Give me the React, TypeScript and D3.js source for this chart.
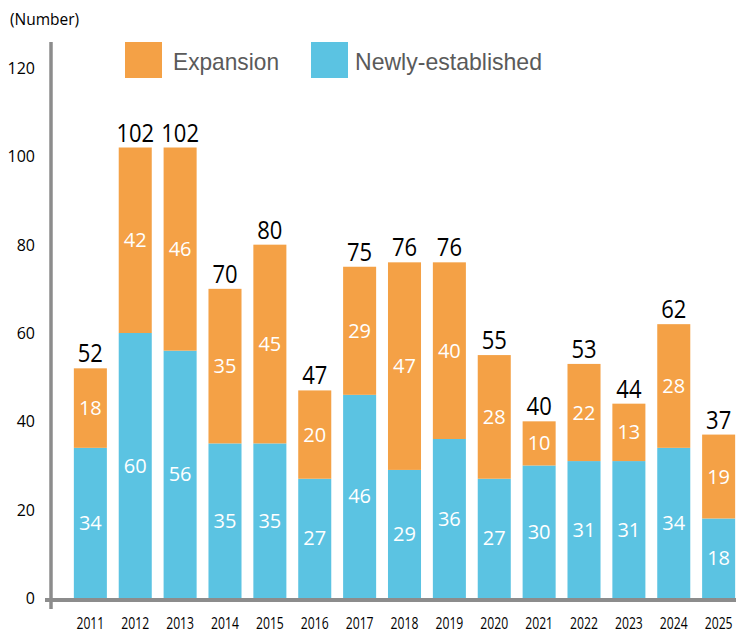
import * as d3 from 'd3';
import { useEffect, useRef } from 'react';

const years = ['2011', '2012', '2013', '2014', '2015', '2016', '2017', '2018', '2019', '2020', '2021', '2022', '2023', '2024', '2025'];
const newlyEstablished = [34, 60, 56, 35, 35, 27, 46, 29, 36, 27, 30, 31, 31, 34, 18];
const expansion = [18, 42, 46, 35, 45, 20, 29, 47, 40, 28, 10, 22, 13, 28, 19];
const yTicks = [0, 20, 40, 60, 80, 100, 120];

const ORANGE = '#f4a146';
const BLUE = '#5bc3e2';
const AXIS = '#8c8c8c';

const App = () => {
  const svgRef = useRef<SVGSVGElement | null>(null);

  useEffect(() => {
    if (!svgRef.current) return;
    const svg = d3.select(svgRef.current);
    svg.selectAll('*').remove();

    const data = years.map((year, i) => ({
      year,
      newly: newlyEstablished[i],
      exp: expansion[i],
      total: newlyEstablished[i] + expansion[i],
    }));

    const x = d3.scaleBand().domain(years).range([62, 747]).padding(0.264);
    const y = d3.scaleLinear().domain([0, 120]).range([598, 68]);

    // bars
    const groups = svg.append('g').selectAll('g').data(data).enter().append('g');

    groups
      .append('rect')
      .attr('x', (d) => x(d.year) as number)
      .attr('y', (d) => y(d.newly))
      .attr('width', x.bandwidth())
      .attr('height', (d) => y(0) - y(d.newly))
      .attr('fill', BLUE);

    groups
      .append('rect')
      .attr('x', (d) => x(d.year) as number)
      .attr('y', (d) => y(d.total))
      .attr('width', x.bandwidth())
      .attr('height', (d) => y(d.newly) - y(d.total))
      .attr('fill', ORANGE);

    const cx = (d: { year: string }) => (x(d.year) as number) + x.bandwidth() / 2;

    groups
      .append('text')
      .attr('x', cx)
      .attr('y', (d) => (y(0) + y(d.newly)) / 2 + 7)
      .attr('text-anchor', 'middle')
      .attr('fill', '#fff')
      .attr('font-size', 20)
      .attr('font-family', 'Open Sans')
      .text((d) => d.newly);

    groups
      .append('text')
      .attr('x', cx)
      .attr('y', (d) => (y(d.newly) + y(d.total)) / 2 + 7)
      .attr('text-anchor', 'middle')
      .attr('fill', '#fff')
      .attr('font-size', 20)
      .attr('font-family', 'Open Sans')
      .text((d) => d.exp);

    groups
      .append('text')
      .attr('transform', (d) => `translate(${cx(d)},${y(d.total) - 6}) scale(0.88,1)`)
      .attr('text-anchor', 'middle')
      .attr('fill', '#000')
      .attr('font-size', 25)
      .attr('font-family', 'Open Sans')
      .text((d) => d.total);

    // year labels
    svg
      .append('g')
      .selectAll('text')
      .data(data)
      .enter()
      .append('text')
      .attr('transform', (d) => `translate(${cx(d)},629) scale(0.76,1)`)
      .attr('text-anchor', 'middle')
      .attr('font-size', 16)
      .attr('font-family', 'Open Sans')
      .attr('fill', '#000')
      .text((d) => d.year);

    // axes
    svg
      .append('line')
      .attr('x1', 51)
      .attr('x2', 51)
      .attr('y1', 42)
      .attr('y2', 609)
      .attr('stroke', AXIS)
      .attr('stroke-width', 3.5);

    svg
      .append('line')
      .attr('x1', 45)
      .attr('x2', 736)
      .attr('y1', 600)
      .attr('y2', 600)
      .attr('stroke', AXIS)
      .attr('stroke-width', 4);

    svg
      .append('g')
      .selectAll('text')
      .data(yTicks)
      .enter()
      .append('text')
      .attr('x', 35)
      .attr('y', (d) => y(d) + 6)
      .attr('text-anchor', 'end')
      .attr('font-size', 16)
      .attr('font-family', 'Open Sans')
      .attr('fill', '#000')
      .text((d) => d);

    svg
      .append('text')
      .attr('x', 10)
      .attr('y', 25)
      .attr('font-size', 15.5)
      .attr('font-family', 'Open Sans')
      .attr('fill', '#000')
      .text('(Number)');

    // legend
    const legend = [
      { label: 'Expansion', color: ORANGE, x: 125 },
      { label: 'Newly-established', color: BLUE, x: 311 },
    ];
    const lg = svg.append('g').selectAll('g').data(legend).enter().append('g');
    lg.append('rect')
      .attr('x', (d) => d.x)
      .attr('y', 42)
      .attr('width', 37)
      .attr('height', 36)
      .attr('fill', (d) => d.color);
    lg.append('text')
      .attr('x', (d) => d.x + (d.label === 'Expansion' ? 48 : 44))
      .attr('y', 70)
      .attr('font-size', 24)
      .attr('font-family', 'Liberation Sans')
      .attr('fill', '#5a5a5a')
      .attr('textLength', (d) => (d.label === 'Expansion' ? 106 : 187))
      .attr('lengthAdjust', 'spacingAndGlyphs')
      .text((d) => d.label);
  }, []);

  return (
    <svg
      ref={svgRef}
      width={736}
      height={634}
      style={{ position: 'absolute', left: 0, top: 0, background: '#fff' }}
    ></svg>
  );
};

export default App;
